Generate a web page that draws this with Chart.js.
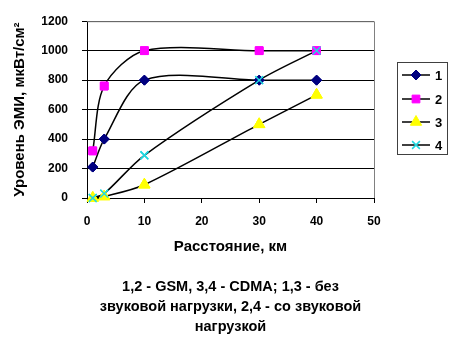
<!DOCTYPE html>
<html>
<head>
<meta charset="utf-8">
<script src="https://cdn.jsdelivr.net/npm/chart.js@4/dist/chart.umd.min.js"></script>
<style>
  html, body { margin: 0; padding: 0; background: #fff; }
  #wrap { width: 461px; height: 341px; }
</style>
</head>
<body>
<div id="wrap"><canvas id="chart" width="461" height="341"></canvas></div>
<script>
// Distance, km
const distances = [1, 3, 10, 30, 40];

// EMI level, uW/cm2
const series1 = [210, 400, 800, 800, 800];
const series2 = [320, 760, 1000, 1000, 1000];
const series3 = [0, 10, 90, 500, 700];
const series4 = [0, 30, 290, 800, 1000];

const seriesNames = ['1', '2', '3', '4'];
const xTicks = [0, 10, 20, 30, 40, 50];
const yTicks = [0, 200, 400, 600, 800, 1000, 1200];

const captionLines = [
  '1,2 - GSM, 3,4 - CDMA; 1,3 - без',
  'звуковой нагрузки, 2,4 - со звуковой',
  'нагрузкой'
];

const FONT = 'Arial, "Liberation Sans", sans-serif';

function toPoints(values) {
  return distances.map((d, i) => ({ x: d, y: values[i] }));
}

function makeSet(label, values, style, color, radius, bw) {
  return {
    label: label,
    data: toPoints(values),
    borderColor: '#000',
    borderWidth: 1.5,
    tension: 0.3,
    pointStyle: style,
    pointRadius: radius,
    pointHoverRadius: radius,
    pointBackgroundColor: color,
    pointBorderColor: color,
    pointBorderWidth: bw,
    clip: false
  };
}

// Markers go on top of every line
const markersOnTop = {
  id: 'markersOnTop',
  afterDatasetsDraw(chart) {
    chart.data.datasets.forEach((ds, i) => {
      const meta = chart.getDatasetMeta(i);
      meta.data.forEach(pt => pt.draw(chart.ctx, chart.chartArea));
    });
  }
};

// Boxed legend with a short line and marker per series
const boxLegend = {
  id: 'boxLegend',
  afterDraw(chart) {
    const ctx = chart.ctx;
    const area = chart.chartArea;
    const left = area.right + 23;
    const top = 62;
    const w = 50, h = 92;
    ctx.save();
    ctx.strokeStyle = '#404040';
    ctx.lineWidth = 1;
    ctx.strokeRect(left + 0.5, top + 0.5, w, h);
    const rows = [75, 99, 122, 145];
    chart.data.datasets.forEach((ds, i) => {
      const y = rows[i];
      ctx.strokeStyle = '#000';
      ctx.lineWidth = 1.5;
      ctx.beginPath();
      ctx.moveTo(left + 5, y);
      ctx.lineTo(left + 33, y);
      ctx.stroke();
      ctx.fillStyle = ds.pointBackgroundColor;
      ctx.strokeStyle = ds.pointBorderColor;
      ctx.lineWidth = ds.pointBorderWidth;
      Chart.helpers.drawPoint(ctx, {
        pointStyle: ds.pointStyle,
        radius: ds.pointRadius,
        borderWidth: ds.pointBorderWidth,
        rotation: 0
      }, left + 19, y);
      ctx.fillStyle = '#000';
      ctx.font = 'bold 13px ' + FONT;
      ctx.textBaseline = 'middle';
      ctx.fillText(ds.label, left + 38, y + 1);
    });
    ctx.restore();
  }
};

// Gray frame on the top and right of the plot
const plotFrame = {
  id: 'plotFrame',
  beforeDatasetsDraw(chart) {
    const { ctx, chartArea: a } = chart;
    ctx.save();
    ctx.strokeStyle = '#808080';
    ctx.lineWidth = 1;
    ctx.beginPath();
    ctx.moveTo(a.left, a.top + 0.5);
    ctx.lineTo(a.right + 0.5, a.top + 0.5);
    ctx.lineTo(a.right + 0.5, a.bottom);
    ctx.stroke();
    ctx.restore();
  }
};

const chart = new Chart(document.getElementById('chart'), {
  type: 'line',
  data: {
    datasets: [
      makeSet(seriesNames[0], series1, 'rectRot', '#000080', 5, 1),
      makeSet(seriesNames[1], series2, 'rect', '#FF00FF', 5.5, 1),
      makeSet(seriesNames[2], series3, 'triangle', '#FFFF00', 6.5, 1),
      makeSet(seriesNames[3], series4, 'crossRot', '#20D8E0', 5.5, 1.5)
    ]
  },
  options: {
    responsive: false,
    animation: false,
    events: [],
    layout: { padding: { left: 0, right: 0, top: 18, bottom: 0 } },
    plugins: {
      legend: { display: false },
      tooltip: { enabled: false },
      title: {
        display: true,
        position: 'bottom',
        text: captionLines,
        color: '#000',
        font: { family: FONT, size: 14.5, weight: 'bold', lineHeight: '20px' },
        padding: { top: 0, bottom: 4 }
      }
    },
    scales: {
      x: {
        type: 'linear',
        min: 0,
        max: 50,
        afterBuildTicks(scale) { scale.ticks = xTicks.map(v => ({ value: v })); },
        afterFit(scale) { scale.height = 79; },
        grid: { drawOnChartArea: false, color: '#000', tickLength: 5, tickColor: '#000' },
        border: { color: '#000', width: 1 },
        ticks: {
          color: '#000', padding: 11,
          font: { family: FONT, size: 12, weight: 'bold' },
          callback: v => String(v)
        },
        title: {
          display: true,
          text: 'Расстояние, км',
          color: '#000',
          font: { family: FONT, size: 15, weight: 'bold' },
          padding: { top: 0, bottom: 21 }
        }
      },
      y: {
        min: 0,
        max: 1200,
        afterBuildTicks(scale) { scale.ticks = yTicks.map(v => ({ value: v })); },
        afterFit(scale) { scale.width = 87; },
        grid: { color: '#000', lineWidth: 1, tickLength: 5, tickColor: '#000' },
        border: { color: '#000', width: 1 },
        ticks: {
          color: '#000', padding: 14,
          font: { family: FONT, size: 12, weight: 'bold' },
          callback: v => String(v)
        },
        title: {
          display: true,
          text: 'Уровень ЭМИ, мкВт/см²',
          color: '#000',
          font: { family: FONT, size: 15, weight: 'bold' },
          padding: { top: 11, bottom: 0 }
        }
      },
      // empty right-hand strip that holds the legend box
      side: {
        position: 'right',
        afterFit(scale) { scale.width = 87; },
        grid: { display: false, drawTicks: false },
        border: { display: false },
        ticks: { display: false }
      }
    }
  },
  plugins: [plotFrame, markersOnTop, boxLegend]
});
</script>
</body>
</html>
